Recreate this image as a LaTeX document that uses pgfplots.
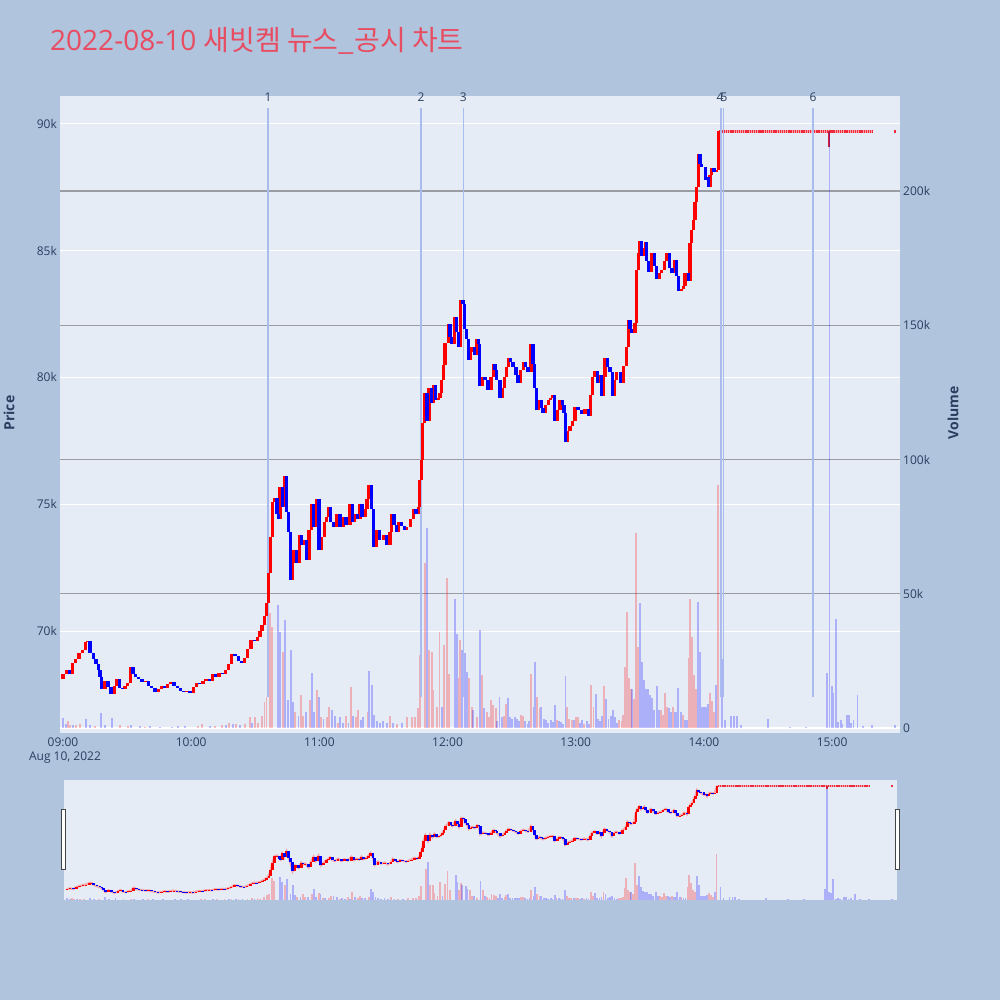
\documentclass[border=0pt]{standalone}
\usepackage{pgfplots}
\usepackage{pgfplotstable}
\pgfplotsset{compat=1.18}
\usepackage{fontspec}
\setmainfont{Open Sans}
\newfontfamily\cjk{Noto Sans CJK KR}
\definecolor{bgcol}{HTML}{B0C4DE}
\definecolor{plotbg}{HTML}{E5ECF6}
\definecolor{tickcol}{HTML}{2A3F5F}
\definecolor{vgrid}{HTML}{9A9CA3}
\definecolor{newscol}{RGB}{170,188,238}
\definecolor{titlecol}{HTML}{E84C61}
\definecolor{handlecol}{HTML}{444444}
\definecolor{flatred}{HTML}{F02A3A}
\definecolor{palered}{HTML}{F4A4AC}
\definecolor{wickred}{HTML}{D0203C}

\pgfplotstableread{
t o c
0 68.10 68.30
1.5 68.30 68.45
3 68.45 68.30
4.5 68.30 68.75
6 68.75 68.90
7.5 68.90 69.15
9 69.15 69.25
10.5 69.25 69.55
11.5 69.55 69.60
12.6 69.60 69.15
14.2 69.15 68.90
15.5 68.90 68.70
16.5 68.70 68.45
17.3 68.45 68.20
18.1 68.20 67.70
19.6 67.70 68.05
21 68.05 67.80
22.5 67.80 67.50
24 67.50 67.85
25.3 67.85 68.10
26.5 68.10 67.75
27.8 67.75 67.70
29 67.70 67.85
30.3 67.85 67.95
31.5 67.95 68.60
32.8 68.60 68.30
34 68.30 68.20
35.5 68.20 68.10
37 68.10 68.00
38.5 68.00 68.05
40 68.05 67.85
41.5 67.85 67.75
43 67.75 67.60
44.5 67.60 67.70
46 67.70 67.85
47.5 67.85 67.75
49 67.75 67.90
50.5 67.90 68.00
52 68.00 67.85
53.5 67.85 67.75
55 67.75 67.65
56.5 67.65 67.60
58 67.60 67.65
59.5 67.65 67.55
61 67.55 67.80
62.5 67.80 67.95
64 67.95 67.90
65.5 67.90 68.05
67 68.05 68.10
68.5 68.10 68.05
70 68.05 68.30
71.5 68.30 68.20
73 68.20 68.35
74.5 68.35 68.30
76 68.30 68.45
77.5 68.45 68.70
79 68.70 69.10
80.5 69.10 69.00
82 69.00 68.80
83.5 68.80 68.75
85 68.75 68.95
86.5 68.95 69.30
88 69.30 69.65
89.5 69.65 69.60
91 69.60 69.75
92.2 69.75 70.00
93.2 70.00 70.25
94.3 70.25 70.60
95.3 70.60 71.10
96.2 71.10 72.30
97 72.30 73.70
98 73.70 75.10
99.2 75.10 75.25
100.2 75.25 74.60
100.8 74.60 74.40
101.6 74.40 75.70
102.6 75.70 74.90
103.6 74.90 76.10
104.7 76.10 74.70
105.4 74.70 73.90
106.5 73.90 72.00
107.3 72.00 72.70
107.8 72.70 73.20
109.3 73.20 72.70
110.6 72.70 73.80
111.5 73.80 73.40
112.4 73.40 73.60
114 73.60 72.80
115.2 72.80 74.00
116.4 74.00 75.00
117.4 75.00 74.10
118.7 74.10 75.20
119.8 75.20 73.20
121 73.20 73.70
122.5 73.70 74.30
123.4 74.30 74.50
124.2 74.50 74.90
125.3 74.90 74.30
126.5 74.30 74.10
128 74.10 74.60
129.6 74.60 74.10
131 74.10 74.50
132.5 74.50 74.20
134.3 74.20 75.00
135.5 75.00 74.30
136.6 74.30 74.60
138 74.60 74.40
139 74.40 75.00
140 75.00 74.50
141.3 74.50 74.80
142.3 74.80 75.20
143.3 75.20 75.75
144.5 75.75 74.80
145.2 74.80 73.30
146.8 73.30 74.00
148.3 74.00 73.60
150 73.60 73.80
151.5 73.80 73.40
153 73.40 73.90
153.8 73.90 74.60
155 74.60 74.20
156 74.20 73.90
157.2 73.90 74.30
158.5 74.30 74.15
160 74.15 74.00
160.8 74.00 74.10
162.5 74.10 74.40
164 74.40 74.80
165.2 74.80 74.60
166.3 74.60 74.90
167 74.90 75.95
167.7 75.95 76.75
168.3 76.75 78.20
169.2 78.20 79.40
170.4 79.40 78.30
171.3 78.30 79.60
172.5 79.60 79.00
173.5 79.00 79.70
174.5 79.70 79.10
175.6 79.10 79.20
176.5 79.20 79.40
177.2 79.40 79.90
178 79.90 80.50
178.8 80.50 81.35
180.3 81.35 82.10
181.2 82.10 81.60
181.9 81.60 81.30
183.4 81.30 82.40
184.2 82.40 81.80
185 81.80 81.20
186.2 81.20 83.05
187.3 83.05 82.90
188.1 82.90 81.90
189 81.90 81.50
189.7 81.50 80.70
190.5 80.70 81.00
191.2 81.00 81.20
192.5 81.20 80.90
193.6 80.90 81.50
194.4 81.50 81.30
195.1 81.30 79.65
196.3 79.65 80.00
197.5 80.00 79.90
199 79.90 79.50
200.3 79.50 80.00
201.4 80.00 80.55
202.2 80.55 80.30
203 80.30 79.90
204.5 79.90 79.20
205.7 79.20 79.60
206.8 79.60 80.00
207.6 80.00 80.40
208.4 80.40 80.75
209.5 80.75 80.60
210.7 80.60 80.40
212 80.40 80.10
213 80.10 79.80
214.2 79.80 80.30
215.4 80.30 80.60
216.5 80.60 80.40
217.7 80.40 80.20
219 80.20 81.30
220 81.30 80.55
220.8 80.55 79.60
221.6 79.60 78.70
222.4 78.70 78.90
223.2 78.90 79.10
224 79.10 78.80
224.7 78.80 78.60
225.9 78.60 78.90
227.1 78.90 79.10
228.2 79.10 79.20
229.4 79.20 79.30
230.2 79.30 78.30
231.4 78.30 78.70
232.6 78.70 79.10
233.8 79.10 78.90
234.5 78.90 78.60
235.2 78.60 77.45
236.2 77.45 77.90
237.3 77.90 78.10
238.5 78.10 78.30
239.7 78.30 78.85
241 78.85 78.70
242.8 78.70 78.55
244.3 78.55 78.75
245.9 78.75 78.50
247 78.50 79.30
247.8 79.30 80.00
249 80.00 80.25
250.3 80.25 79.80
251.3 79.80 80.10
252.2 80.10 79.25
253 79.25 80.00
253.7 80.00 80.75
255 80.75 80.40
256.1 80.40 80.20
257.3 80.20 79.25
258.2 79.25 79.90
259.2 79.90 80.20
260.8 80.20 79.80
262.3 79.80 80.45
263.9 80.45 81.20
264.6 81.20 82.25
265.4 82.25 81.90
266.2 81.90 81.75
267.8 81.75 82.15
268.6 82.15 84.25
269.4 84.25 84.90
270.1 84.90 85.40
270.9 85.40 84.80
271.7 84.80 85.10
272.5 85.10 85.35
273.2 85.35 84.60
274 84.60 84.15
275.6 84.15 84.90
276.8 84.90 84.40
277.9 84.40 83.90
279 83.90 84.10
280.3 84.10 84.25
281.4 84.25 84.60
282.6 84.60 84.90
283.8 84.90 84.30
285 84.30 84.10
286.5 84.10 84.65
287.3 84.65 84.00
288.1 84.00 83.40
289.3 83.40 83.50
290.4 83.50 83.60
291.2 83.60 84.10
292.7 84.10 83.80
293.5 83.80 85.30
294.3 85.30 85.80
295.1 85.80 86.20
295.9 86.20 86.90
296.6 86.90 87.50
297.4 87.50 88.80
298.2 88.80 88.40
299 88.40 88.30
300.6 88.30 87.80
301.4 87.80 87.90
302.1 87.90 87.50
302.9 87.50 88.00
303.7 88.00 88.25
304.7 88.25 88.10
305.7 88.10 88.20
306.8 88.20 89.70
}\candles

\pgfplotstableread{
t v
2.3 2.6
3.3 1.0
6.1 1.2
8.0 1.5
15 0.8
26.7 1.0
30.4 0.8
38.4 0.5
63.2 0.8
65 1.5
71 0.8
74.4 1.2
77.7 1.8
81 1.5
85.2 1.5
87.5 4.2
89.9 4.0
91.3 2.0
93 4.5
94.3 9.8
95.3 11.7
96.9 42.8
97.7 37.7
102.9 28.4
108.6 6
111.4 12.3
112.5 4.5
115.6 10.4
118.8 14.2
120.8 4
123.5 4
124.7 7.7
128.9 2
132.5 4.5
134.7 15.2
137.2 4
138.2 6.6
142.5 6
153.1 4.5
156.2 1.5
160.9 4
163.2 4
164.8 4
166.3 7.3
167.1 27.2
169.5 61.3
171.3 29
172.6 28.4
173.4 14.2
174.9 8
176.2 35.9
178.4 31
179.6 56
180.8 20
185.1 18.5
185.9 32.8
190.2 18.5
191.3 8
193.7 4
196.3 19.7
198.4 6
199.4 4
200.4 10.4
201.4 8.5
202.6 7.3
206.5 4.5
207.4 9
214.3 5
215.2 4.5
219.2 20
222 11.7
223 7.3
231.1 3
236.1 8
237 3.5
238.1 3
240.2 4
241.1 4
243.9 1.5
247.2 16
248.3 8
253.3 15.6
260.4 3
261.5 2.5
262.3 5
263.2 22.8
263.9 43.3
264.8 18.5
265.8 14.5
267.3 10.8
268.2 72.6
269.2 30
279.8 6.6
280.7 5
281.7 13.2
282.6 8
285.4 8
290.1 5
292.9 26
293.5 48
294.4 34
295.4 19.7
296.3 14.5
302.9 13.2
303.9 10
304.8 6
306.6 90.5
}\volred

\pgfplotstableread{
t v
0 3.7
1.4 1.5
4.7 1.0
10.8 3.2
12.6 1.0
17.8 5.5
19.7 1.2
22.9 3.7
31.8 1.0
36 0.8
40.7 0.6
45.4 0.5
51 0.5
53.8 0.8
57 0.6
68.8 0.7
76.3 1.2
79.6 1.5
82.9 1.0
88.5 2.0
100.5 45.8
101.6 35.9
103.9 40.2
105.5 10.4
106.6 29
107.8 9.8
110.2 4.5
113.8 6
116.6 20.4
117.5 6
119.7 11.7
121.9 3.5
125.8 6.6
127.3 4.5
129.7 4
131.2 2
133.6 2
135.9 4.5
139.4 3
140.6 4
143.4 21.3
144.5 16
145.6 5
146.9 2.5
148.4 2
149.9 2.5
151.5 2
154.6 2
158.6 2
170.3 74.4
177.3 8
183.5 48
184.3 35
186.6 29
188.2 27.8
189 21
192.1 6.6
195.2 36.5
197.2 7.3
203.3 2.5
204.3 11.7
205.4 4
208.3 11
209.3 4
210.3 3.5
211.5 4
212.4 3.5
213.3 2.5
216.3 2.5
217.4 1.5
218.3 2.5
220.2 8
221.1 24.7
223.9 8
225.2 3.5
226.1 3
227.2 1.8
228.3 3
229.2 2.2
230.2 8.5
232.1 2.5
233 2.2
233.9 1.5
235.2 19.4
239.2 3
242 2
243 3
245.2 2.5
246.2 1.5
249.4 12.7
250.3 3.5
251.4 2.7
252.3 4.5
254.2 10.8
255.3 3.5
256.4 4.5
257.3 6.6
258.4 4
259.5 2
266.4 14.5
270.1 46.4
271.1 24.7
272 18
272.9 14.5
273.9 14.5
274.8 12.3
275.7 11
276.7 6.6
277.9 15.6
278.9 6.6
283.6 7.3
284.5 6
286.4 6
287.3 6
288 14.8
289.2 6
291 3
292 3
297.3 47
298.2 28.4
299.2 8
300.1 8
301 8
302 8.8
305.7 16
308.5 25.7
309.9 3
312.7 4.5
314.1 4.5
315.5 4.5
317.4 1
330 3.4
340.3 0.5
347.8 0.5
357.8 20.6
358.8 222
359.8 15.6
360.6 13
361.7 40.5
362.9 2.3
364 3
364.9 1.5
366.8 4.8
367.8 4.8
368.9 2
370 3
371.9 12.3
374.5 0.8
378.7 1.2
389.5 1.0
}\volblue

\newcommand{\volplots}{%
\addplot[ycomb, draw=red, opacity=0.25, line width=1.8bp, no markers, forget plot] table[x=t,y=v] {\volred};
\addplot[ycomb, draw=blue, opacity=0.25, line width=1.8bp, no markers, forget plot] table[x=t,y=v] {\volblue};
}
\newcommand{\flatplots}{%
\addplot[color=palered, solid, line width=2.2bp, no markers, forget plot] coordinates {(307.3,89.7) (378.8,89.7)};
\addplot[color=flatred, line width=2.2bp, dash pattern=on 1.35bp off 0.8bp, no markers, forget plot] coordinates {(307.3,89.7) (378.8,89.7)};
\addplot[color=flatred, solid, line width=2.2bp, no markers, forget plot] coordinates {(388.9,89.7) (389.9,89.7)};
\addplot[color=wickred, solid, line width=1.7bp, no markers, forget plot] coordinates {(358.7,89.1) (358.7,89.7)};
}
\newcommand{\candleplots}[1]{%
\addplot[draw=none, no markers, forget plot, error bars/.cd, y dir=minus, y explicit, error mark=none,
  error bar style={line width=#1, draw=red, line cap=butt, solid}]
  table[x=t, y=c, y error expr={max(\thisrow{c}-\thisrow{o},0)}] {\candles};
\addplot[draw=none, no markers, forget plot, error bars/.cd, y dir=plus, y explicit, error mark=none,
  error bar style={line width=#1, draw=blue, line cap=butt, solid}]
  table[x=t, y=c, y error expr={max(\thisrow{o}-\thisrow{c},0)}] {\candles};
}

\pgfplotsset{
  common/.style={scale only axis, width=840bp, height=637bp, at={(60bp,267bp)}, anchor=south west,
    xmin=-1.4, xmax=391.8, axis line style={draw=none}, major tick length=0pt,
    tick style={draw=none},
    tick label style={font=\fontsize{12bp}{14bp}\selectfont, text=tickcol}},
}

\begin{document}
\begin{tikzpicture}[x=1bp,y=1bp]
\fill[bgcol] (0,0) rectangle (1000,1000);
\useasboundingbox (0,0) rectangle (1000,1000);

% price axis: background, white grid, labels
\begin{axis}[common, axis background/.style={fill=plotbg},
  ymin=65.98, ymax=91.10,
  ytick={70,75,80,85,90}, yticklabels={70k,75k,80k,85k,90k},
  ymajorgrids, grid style={white, line width=1bp},
  yticklabel style={anchor=east, inner sep=0pt, xshift=-3bp},
  xtick={0,60,120,180,240,300,360},
  xticklabels={09:00,10:00,11:00,12:00,13:00,14:00,15:00},
  xticklabel style={anchor=north, inner sep=0pt, yshift=-4.5bp}]
\end{axis}

% flat stretch below the news lines
\begin{axis}[common, ymin=65.98, ymax=91.10, xtick=\empty, ytick=\empty]
\flatplots
\end{axis}

% volume axis
\begin{axis}[common, clip=false,
  ymin=-1.86, ymax=235.4,
  ytick={0,50,100,150,200}, yticklabels={0,50k,100k,150k,200k},
  yticklabel pos=right,
  ymajorgrids, grid style={vgrid, line width=1.2bp},
  yticklabel style={anchor=west, inner sep=0pt, xshift=3bp},
  xtick=\empty]
\draw[white, line width=2bp] (axis cs:-1.4,0) -- (axis cs:391.8,0);
\volplots
\foreach \tt/\lab in {96/1,167.6/2,187.4/3,308.0/4,309.2/5,351.1/6}{
  \edef\temp{\noexpand\addplot[newscol, line width=1.5bp, no markers, forget plot] coordinates {(\tt,11.5) (\tt,231)};}
  \temp
}
\node[anchor=base, text=tickcol, font=\fontsize{12bp}{14bp}\selectfont, inner sep=0pt] at (axis cs:96,233.4) {1};
\node[anchor=base, text=tickcol, font=\fontsize{12bp}{14bp}\selectfont, inner sep=0pt] at (axis cs:167.6,233.4) {2};
\node[anchor=base, text=tickcol, font=\fontsize{12bp}{14bp}\selectfont, inner sep=0pt] at (axis cs:187.4,233.4) {3};
\node[anchor=base, text=tickcol, font=\fontsize{12bp}{14bp}\selectfont, inner sep=0pt] at (axis cs:307.6,233.4) {4};
\node[anchor=base, text=tickcol, font=\fontsize{12bp}{14bp}\selectfont, inner sep=0pt] at (axis cs:309.4,233.4) {5};
\node[anchor=base, text=tickcol, font=\fontsize{12bp}{14bp}\selectfont, inner sep=0pt] at (axis cs:351.1,233.4) {6};
\end{axis}

% candles on top
\begin{axis}[common, ymin=65.98, ymax=91.10, xtick=\empty, ytick=\empty]
\candleplots{3.3bp}
\end{axis}

% range slider
\begin{axis}[scale only axis, width=833bp, height=120bp, at={(64bp,100bp)}, anchor=south west,
  xmin=-1.4, xmax=391.8, ymin=-0.5, ymax=237, axis line style={draw=none},
  axis background/.style={fill=plotbg}, xtick=\empty, ytick=\empty]
\volplots
\end{axis}
\begin{axis}[scale only axis, width=833bp, height=120bp, at={(64bp,100bp)}, anchor=south west,
  xmin=-1.4, xmax=391.8, ymin=66.05, ymax=90.88, axis line style={draw=none},
  xtick=\empty, ytick=\empty]
\addplot[draw=red!60, line width=2.2bp, no markers, forget plot, opacity=0.5] table[x=t, y=c] {\candles};
\flatplots
\candleplots{2.6bp}
\end{axis}
\draw[fill=white, draw=handlecol, line width=1bp] (61.7,130) rectangle (65.7,190);
\draw[fill=white, draw=handlecol, line width=1bp] (895.3,130) rectangle (899.3,190);

% texts
\node[anchor=base west, inner sep=0pt, text=titlecol, font=\fontsize{28bp}{32bp}\selectfont] at (50,949.3) {2022-08-10 {\cjk 새빗켐 뉴스\_공시 차트}};
\node[anchor=base, inner sep=0pt, text=tickcol, font=\fontsize{12bp}{14bp}\selectfont] at (65,239) {Aug 10, 2022};
\node[rotate=90, text=tickcol, font=\fontsize{14bp}{16bp}\selectfont\bfseries] at (9,587) {Price};
\node[rotate=90, text=tickcol, font=\fontsize{14bp}{16bp}\selectfont\bfseries] at (953,587) {Volume};
\end{tikzpicture}
\end{document}
